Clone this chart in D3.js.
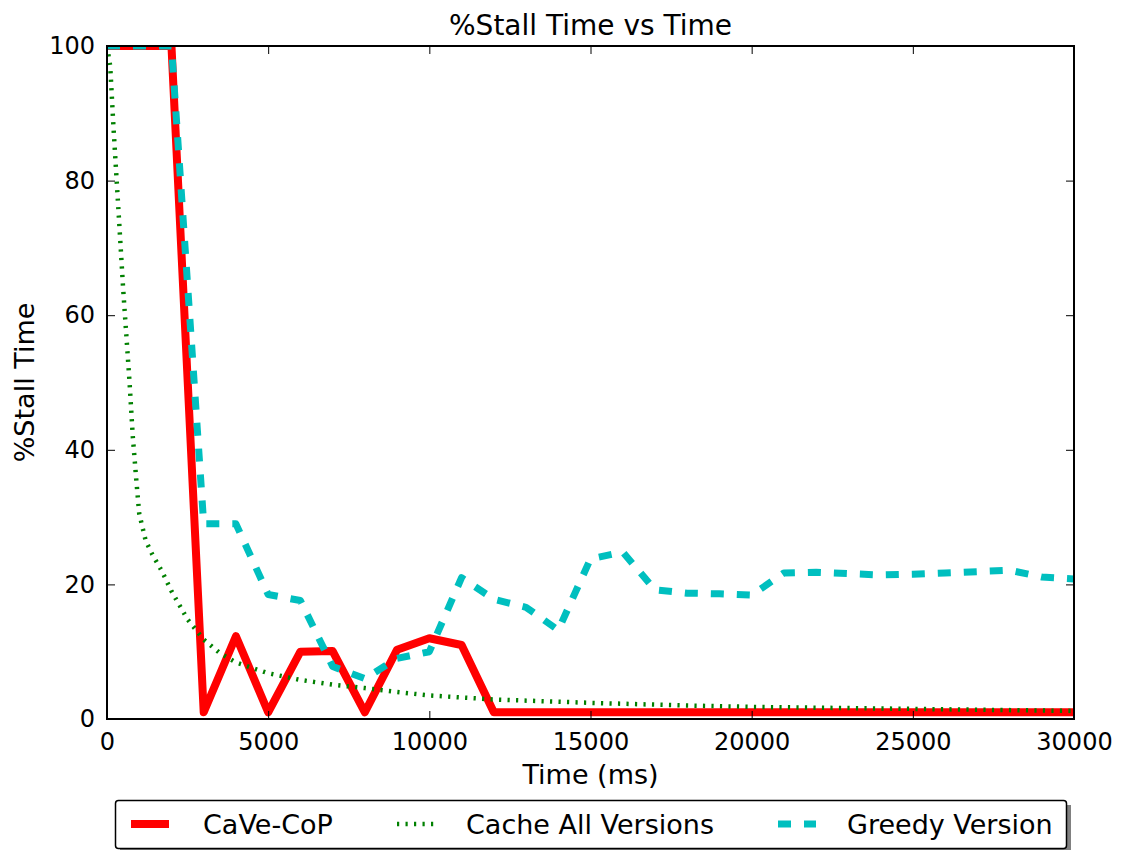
<!DOCTYPE html>
<html>
<head>
<meta charset="utf-8">
<script src="https://cdnjs.cloudflare.com/ajax/libs/d3/7.8.5/d3.min.js"></script>
<style>
  body { margin: 0; background: #fff; }
  svg { font-family: "DejaVu Sans", sans-serif; }
</style>
</head>
<body>
<svg id="chart" width="1122" height="850"></svg>
<script>
// time axis (ms) for the two stepped series
const times = [0, 1000, 2000, 3000, 4000, 5000, 6000, 7000, 8000, 9000, 10000,
  11000, 12000, 13000, 14000, 15000, 16000, 17000, 18000, 19000, 20000,
  21000, 22000, 23000, 24000, 25000, 26000, 27000, 28000, 29000, 30000]

const caveCop = [100, 100, 100, 1, 12.3, 1, 10, 10.1, 1, 10.3, 12, 11, 1, 1, 1,
  1, 1, 1, 1, 1, 1, 1, 1, 1, 1, 1, 1, 1, 1, 1, 1]

const greedy = [100, 100, 100, 29, 29, 18.5, 17.6, 7.8, 6, 9, 10, 21, 17.8, 16.6, 13.2,
  23.8, 24.8, 19.2, 18.7, 18.6, 18.4, 21.7, 21.8, 21.6, 21.4, 21.5, 21.7, 21.9, 22.1, 21.1, 20.8]

// cache-all curve, read at irregular points
const cacheTimes = [0, 100, 200, 300, 400, 500, 600, 700, 800, 900, 1000, 1200, 1400,
  1700, 2000, 2500, 3000, 3500, 4000, 5000, 6000, 7000, 8000, 9000, 10000, 12000,
  15000, 18000, 20000, 25000, 30000]
const cacheAll = [100, 97, 88, 80, 72, 64, 57, 50, 42, 36, 30.5, 26.5, 24.5,
  22, 19, 14.8, 11.8, 9.8, 8.4, 6.8, 5.8, 5.1, 4.6, 4.0, 3.5, 2.9,
  2.4, 2.0, 1.8, 1.5, 1.2]

const seriesNames = ["CaVe-CoP", "Cache All Versions", "Greedy Version"]
const xTicks = [0, 5000, 10000, 15000, 20000, 25000, 30000]
const yTicks = [0, 20, 40, 60, 80, 100]

let svg = d3.select("#chart"),
    margin = {top: 46, right: 48, bottom: 131, left: 107},
    width = 1122 - margin.left - margin.right,
    height = 850 - margin.top - margin.bottom,
    g = svg.append("g").attr("transform", "translate(" + margin.left + "," + margin.top + ")")

let x = d3.scaleLinear().domain([0, 30000]).range([0, width]),
    y = d3.scaleLinear().domain([0, 100]).range([height, 0])

svg.append("defs").append("clipPath").attr("id", "plot-clip")
  .append("rect").attr("width", width).attr("height", height)

const styles = [
  {color: "#ff0000", width: 8, dash: null},
  {color: "#008000", width: 4.5, dash: "2.2,6.3"},
  {color: "#00bfbf", width: 7, dash: "13,13"}
]

const lineData = [
  times.map((t, i) => [t, caveCop[i]]),
  cacheTimes.map((t, i) => [t, cacheAll[i]]),
  times.map((t, i) => [t, greedy[i]])
]

let line = d3.line().x(d => x(d[0])).y(d => y(d[1]))

let plot = g.append("g").attr("clip-path", "url(#plot-clip)")
lineData.forEach((d, i) => {
  plot.append("path")
    .attr("d", line(d))
    .attr("fill", "none")
    .attr("stroke", styles[i].color)
    .attr("stroke-width", styles[i].width)
    .attr("stroke-linejoin", "round")
    .attr("stroke-dasharray", styles[i].dash)
})

// axes with inward ticks on all four sides
const tickFont = "24px 'DejaVu Sans'"
let xb = g.append("g").attr("transform", "translate(0," + height + ")")
  .call(d3.axisBottom(x).tickValues(xTicks).tickSizeInner(-8).tickSizeOuter(0).tickPadding(14).tickFormat(d3.format("d")))
let xt = g.append("g")
  .call(d3.axisTop(x).tickValues(xTicks).tickSizeInner(-8).tickSizeOuter(0).tickFormat(""))
let yl = g.append("g")
  .call(d3.axisLeft(y).tickValues(yTicks).tickSizeInner(-8).tickSizeOuter(0).tickPadding(12))
let yr = g.append("g").attr("transform", "translate(" + width + ",0)")
  .call(d3.axisRight(y).tickValues(yTicks).tickSizeInner(-8).tickSizeOuter(0).tickFormat(""))

;[xb, xt, yl, yr].forEach(a => {
  a.select(".domain").remove()
  a.selectAll(".tick line").attr("stroke", "#000").attr("stroke-width", 1)
  a.selectAll("text").style("font", tickFont).attr("fill", "#000")
})
xb.selectAll("text").attr("dy", "0.71em")

g.append("rect")
  .attr("width", width).attr("height", height)
  .attr("fill", "none").attr("stroke", "#000").attr("stroke-width", 2)

// labels
svg.append("text")
  .attr("x", margin.left + width / 2).attr("y", 35)
  .attr("text-anchor", "middle")
  .style("font", "28px 'DejaVu Sans'")
  .text("%Stall Time vs Time")

svg.append("text")
  .attr("x", margin.left + width / 2).attr("y", 784)
  .attr("text-anchor", "middle")
  .style("font", "27px 'DejaVu Sans'")
  .text("Time (ms)")

svg.append("text")
  .attr("transform", "translate(34," + (margin.top + height / 2) + ") rotate(-90)")
  .attr("text-anchor", "middle")
  .style("font", "27px 'DejaVu Sans'")
  .text("%Stall Time")

// legend
let legend = svg.append("g")
legend.append("rect")
  .attr("x", 120).attr("y", 805).attr("width", 951).attr("height", 48)
  .attr("fill", "#808080")
legend.append("rect")
  .attr("x", 115.5).attr("y", 800.5).attr("width", 951).attr("height", 48)
  .attr("rx", 3)
  .attr("fill", "#fff").attr("stroke", "#000").attr("stroke-width", 1.5)

const legendX = [131, 397, 778]
const legendTextX = [203, 466, 847]
seriesNames.forEach((name, i) => {
  legend.append("line")
    .attr("x1", legendX[i]).attr("x2", legendX[i] + 38)
    .attr("y1", 824).attr("y2", 824)
    .attr("stroke", styles[i].color)
    .attr("stroke-width", styles[i].width)
    .attr("stroke-dasharray", styles[i].dash)
  legend.append("text")
    .attr("x", legendTextX[i]).attr("y", 834)
    .style("font", "27px 'DejaVu Sans'")
    .text(name)
})
</script>
</body>
</html>
